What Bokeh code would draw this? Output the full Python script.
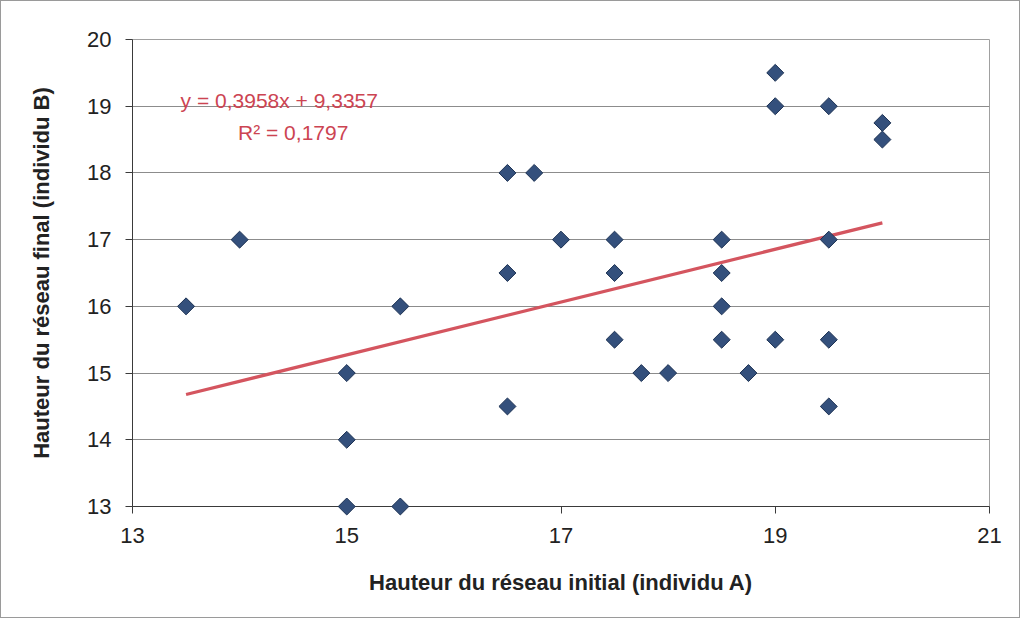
import numpy as np
from bokeh.plotting import figure
from bokeh.models import Range1d, FixedTicker, Label, ColumnDataSource
from bokeh.embed import file_html
from bokeh.resources import INLINE

# ---- data ----
x_initial = [13.5, 14, 15, 15, 15, 15.5, 15.5, 16.5, 16.5, 16.5, 16.75, 17,
             17.5, 17.5, 17.5, 17.75, 18, 18.5, 18.5, 18.5, 18.5, 18.75,
             19, 19, 19, 19.5, 19.5, 19.5, 19.5, 20, 20]
y_final = [16, 17, 15, 14, 13, 16, 13, 18, 16.5, 14.5, 18, 17,
           17, 16.5, 15.5, 15, 15, 17, 16.5, 16, 15.5, 15,
           19.5, 19, 15.5, 19, 17, 15.5, 14.5, 18.75, 18.5]
slope = 0.3958
intercept = 9.3357
r2_text = "0,1797"
x_ticks = [13, 15, 17, 19, 21]
y_ticks = [13, 14, 15, 16, 17, 18, 19, 20]
x_title = "Hauteur du réseau initial (individu A)"
y_title = "Hauteur du réseau final (individu B)"

FONT = "Liberation Sans"

p = figure(width=1020, height=618, output_backend="svg", toolbar_location=None,
           x_range=Range1d(13, 21), y_range=Range1d(13, 20),
           min_border_left=131, min_border_right=32,
           min_border_top=38, min_border_bottom=113)
p.styles = {"border": "1px solid #9a9a9a"}
p.background_fill_color = "white"
p.border_fill_color = "white"
p.outline_line_color = "#a0a0a0"
p.outline_line_width = 1

# grid
p.xgrid.grid_line_color = None
p.ygrid.grid_line_color = "#8c8c8c"
p.ygrid.grid_line_width = 1
p.ygrid.ticker = FixedTicker(ticks=y_ticks)

# axes
for ax in (p.xaxis[0], p.yaxis[0]):
    ax.axis_line_color = "#3a3a3a"
    ax.axis_line_width = 1
    ax.major_tick_line_color = "#3a3a3a"
    ax.major_tick_out = 7
    ax.major_tick_in = 0
    ax.minor_tick_line_color = None
    ax.major_label_text_font = FONT
    ax.major_label_text_font_size = "22px"
    ax.major_label_text_color = "#222222"
    ax.axis_label_text_font = FONT
    ax.axis_label_text_font_style = "bold"
    ax.axis_label_text_font_size = "22px"
    ax.axis_label_text_color = "#222222"

p.xaxis[0].ticker = FixedTicker(ticks=x_ticks)
p.yaxis[0].ticker = FixedTicker(ticks=y_ticks)
p.xaxis[0].axis_label = x_title
p.yaxis[0].axis_label = y_title
p.xaxis[0].major_label_standoff = 14
p.yaxis[0].major_label_standoff = 14
p.xaxis[0].axis_label_standoff = 24
p.yaxis[0].axis_label_standoff = 30

# trend line
x0, x1 = min(x_initial), max(x_initial)
tx = [x0, x1]
ty = [slope * v + intercept for v in tx]
p.line(tx, ty, line_color="#d4555f", line_width=3.2)

# markers
src = ColumnDataSource(dict(x=x_initial, y=y_final))
r = p.scatter("x", "y", source=src, marker="square", size=12, angle=np.pi / 4,
              fill_color="#34507c", line_color="#1e3354", line_width=1)
r.level = "overlay"

# equation labels
eq1 = "y = " + f"{slope:.4f}".replace(".", ",") + "x + " + f"{intercept:.4f}".replace(".", ",")
eq2 = "R² = " + r2_text
p.add_layout(Label(x=14.37, y=19.08, text=eq1, text_align="center", text_baseline="alphabetic",
                   text_font=FONT, text_font_size="21px", text_color="#cc4452"))
p.add_layout(Label(x=14.50, y=18.60, text=eq2, text_align="center", text_baseline="alphabetic",
                   text_font=FONT, text_font_size="21px", text_color="#cc4452"))

open("out.html", "w").write(file_html(p, INLINE))
